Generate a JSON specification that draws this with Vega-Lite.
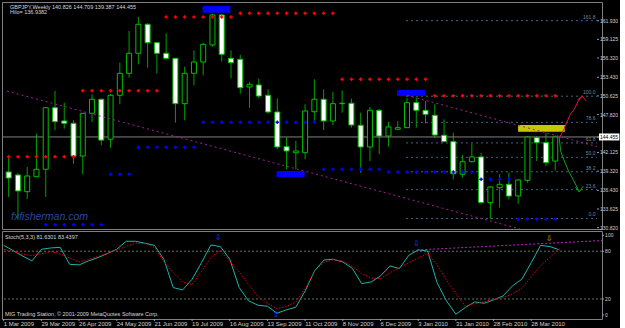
{
  "$schema": "https://vega.github.io/schema/vega-lite/v6.json",
  "usermeta": {"embedOptions": {"actions": false}},
  "background": "#000000",
  "padding": {"left": 1, "top": 1, "right": 0, "bottom": 0},
  "bounds": "flush",
  "spacing": 2,
  "config": {
    "view": {"stroke": "#808080", "strokeWidth": 1},
    "font": "Liberation Sans"
  },
  "datasets": {
    "bars": [
      {"i":0,"o":139.19,"h":141.30,"l":135.43,"c":138.29,"r":141.49,"s":null,"st":87.4,"sg":82.4},
      {"i":1,"o":138.74,"h":139.04,"l":132.13,"c":136.34,"r":141.49,"s":null,"st":80.8,"sg":79.5},
      {"i":2,"o":136.23,"h":139.94,"l":135.13,"c":138.59,"r":141.49,"s":null,"st":74.0,"sg":76.4},
      {"i":3,"o":138.48,"h":144.95,"l":138.44,"c":139.60,"r":141.49,"s":null,"st":67.8,"sg":74.5},
      {"i":4,"o":139.60,"h":148.96,"l":135.43,"c":148.85,"r":141.49,"s":131.27,"st":82.4,"sg":76.8},
      {"i":5,"o":148.85,"h":151.37,"l":145.46,"c":146.75,"r":141.49,"s":131.27,"st":84.1,"sg":79.6},
      {"i":6,"o":146.86,"h":149.61,"l":145.70,"c":146.51,"r":141.49,"s":131.27,"st":84.9,"sg":76.5},
      {"i":7,"o":146.51,"h":146.96,"l":140.44,"c":141.59,"r":141.49,"s":131.27,"st":63.6,"sg":71.6},
      {"i":8,"o":141.59,"h":148.06,"l":138.85,"c":148.01,"r":151.41,"s":131.27,"st":62.8,"sg":66.5},
      {"i":9,"o":148.01,"h":150.87,"l":146.71,"c":150.12,"r":151.41,"s":131.27,"st":67.8,"sg":69.6},
      {"i":10,"o":150.12,"h":150.21,"l":143.20,"c":143.98,"r":151.41,"s":131.27,"st":72.0,"sg":73.4},
      {"i":11,"o":144.11,"h":150.91,"l":142.84,"c":150.72,"r":151.41,"s":138.85,"st":77.0,"sg":77.3},
      {"i":12,"o":150.72,"h":155.62,"l":149.37,"c":154.02,"r":151.41,"s":138.85,"st":82.4,"sg":81.6},
      {"i":13,"o":154.02,"h":160.38,"l":153.36,"c":157.03,"r":151.41,"s":138.85,"st":92.5,"sg":85.9},
      {"i":14,"o":157.03,"h":162.49,"l":155.38,"c":161.39,"r":151.41,"s":142.90,"st":92.5,"sg":90.2},
      {"i":15,"o":161.39,"h":161.54,"l":154.87,"c":158.62,"r":151.41,"s":142.90,"st":90.0,"sg":89.6},
      {"i":16,"o":158.62,"h":158.73,"l":153.97,"c":157.03,"r":151.41,"s":142.90,"st":87.4,"sg":85.0},
      {"i":17,"o":157.03,"h":160.04,"l":156.13,"c":156.28,"r":162.49,"s":142.90,"st":69.9,"sg":67.0},
      {"i":18,"o":156.28,"h":156.32,"l":146.60,"c":149.46,"r":162.49,"s":142.90,"st":34.3,"sg":53.0},
      {"i":19,"o":149.46,"h":155.02,"l":146.96,"c":154.02,"r":162.49,"s":142.90,"st":31.4,"sg":41.0},
      {"i":20,"o":154.02,"h":157.48,"l":152.22,"c":155.72,"r":162.49,"s":142.90,"st":44.8,"sg":38.0},
      {"i":21,"o":155.72,"h":158.62,"l":153.72,"c":158.38,"r":162.49,"s":146.66,"st":65.7,"sg":55.0},
      {"i":22,"o":158.28,"h":162.98,"l":158.02,"c":162.79,"r":162.49,"s":146.66,"st":87.9,"sg":72.0},
      {"i":23,"o":162.79,"h":162.89,"l":155.77,"c":156.88,"r":162.49,"s":146.66,"st":85.8,"sg":81.5},
      {"i":24,"o":156.28,"h":157.48,"l":153.27,"c":155.62,"r":162.49,"s":146.66,"st":69.9,"sg":67.0},
      {"i":25,"o":156.13,"h":156.78,"l":150.96,"c":151.86,"r":163.04,"s":146.66,"st":34.3,"sg":54.0},
      {"i":26,"o":151.97,"h":152.72,"l":148.85,"c":152.37,"r":163.04,"s":146.66,"st":17.6,"sg":38.0},
      {"i":27,"o":152.27,"h":153.21,"l":150.27,"c":150.61,"r":163.04,"s":146.66,"st":12.1,"sg":23.0},
      {"i":28,"o":150.72,"h":151.62,"l":147.95,"c":148.21,"r":163.04,"s":146.66,"st":10.9,"sg":14.5},
      {"i":29,"o":148.21,"h":150.27,"l":142.60,"c":142.95,"r":163.04,"s":146.66,"st":2.1,"sg":8.0},
      {"i":30,"o":142.99,"h":144.45,"l":139.60,"c":142.35,"r":163.04,"s":146.66,"st":6.3,"sg":10.5},
      {"i":31,"o":142.09,"h":143.85,"l":139.60,"c":142.35,"r":163.04,"s":146.66,"st":9.6,"sg":16.0},
      {"i":32,"o":142.09,"h":149.37,"l":141.10,"c":148.36,"r":163.04,"s":146.66,"st":30.1,"sg":33.0},
      {"i":33,"o":148.25,"h":153.12,"l":146.86,"c":150.12,"r":163.04,"s":146.66,"st":55.2,"sg":55.0},
      {"i":34,"o":150.12,"h":151.62,"l":145.50,"c":146.86,"r":163.04,"s":139.60,"st":69.0,"sg":66.0},
      {"i":35,"o":146.86,"h":151.21,"l":146.21,"c":149.46,"r":163.04,"s":139.60,"st":69.9,"sg":69.5},
      {"i":36,"o":149.46,"h":151.47,"l":148.10,"c":149.52,"r":153.12,"s":139.60,"st":66.5,"sg":67.8},
      {"i":37,"o":149.52,"h":150.21,"l":145.85,"c":146.25,"r":153.12,"s":139.60,"st":58.6,"sg":61.0},
      {"i":38,"o":146.21,"h":148.10,"l":139.09,"c":142.95,"r":153.12,"s":139.60,"st":39.3,"sg":52.0},
      {"i":39,"o":142.95,"h":148.96,"l":140.84,"c":148.46,"r":153.12,"s":139.60,"st":41.4,"sg":46.3},
      {"i":40,"o":148.46,"h":148.61,"l":141.85,"c":144.60,"r":153.12,"s":139.60,"st":49.0,"sg":45.5},
      {"i":41,"o":144.60,"h":146.75,"l":142.99,"c":145.96,"r":153.12,"s":139.18,"st":61.5,"sg":53.0},
      {"i":42,"o":145.61,"h":146.86,"l":145.55,"c":145.85,"r":153.12,"s":139.18,"st":58.2,"sg":59.4},
      {"i":43,"o":145.85,"h":150.31,"l":145.80,"c":149.61,"r":153.12,"s":139.18,"st":74.9,"sg":65.5},
      {"i":44,"o":149.61,"h":150.36,"l":145.85,"c":148.46,"r":153.12,"s":139.18,"st":81.6,"sg":71.5},
      {"i":45,"o":148.46,"h":149.86,"l":146.45,"c":147.86,"r":153.12,"s":139.18,"st":80.3,"sg":77.0},
      {"i":46,"o":147.71,"h":149.37,"l":144.35,"c":144.75,"r":150.64,"s":139.18,"st":40.6,"sg":63.0},
      {"i":47,"o":144.71,"h":147.11,"l":143.70,"c":143.75,"r":150.64,"s":139.18,"st":17.6,"sg":44.0},
      {"i":48,"o":143.75,"h":145.10,"l":138.09,"c":138.93,"r":150.64,"s":139.18,"st":0.8,"sg":26.5},
      {"i":49,"o":138.85,"h":141.75,"l":138.33,"c":140.74,"r":150.64,"s":139.18,"st":9.2,"sg":11.0},
      {"i":50,"o":140.74,"h":143.44,"l":140.59,"c":141.45,"r":150.64,"s":139.18,"st":16.3,"sg":14.0},
      {"i":51,"o":141.45,"h":142.09,"l":134.46,"c":134.60,"r":150.64,"s":138.09,"st":14.6,"sg":16.5},
      {"i":52,"o":134.58,"h":137.09,"l":132.08,"c":136.94,"r":150.64,"s":138.09,"st":18.8,"sg":19.5},
      {"i":53,"o":136.83,"h":138.85,"l":133.83,"c":137.34,"r":150.64,"s":138.09,"st":23.8,"sg":21.8},
      {"i":54,"o":137.34,"h":139.09,"l":135.09,"c":135.58,"r":150.64,"s":138.09,"st":36.4,"sg":26.3},
      {"i":55,"o":135.58,"h":138.09,"l":134.43,"c":137.99,"r":150.64,"s":132.08,"st":44.8,"sg":33.6},
      {"i":56,"o":137.94,"h":144.60,"l":137.58,"c":144.45,"r":150.64,"s":132.08,"st":65.7,"sg":48.0},
      {"i":57,"o":144.35,"h":144.60,"l":140.84,"c":143.60,"r":150.64,"s":132.08,"st":87.4,"sg":62.0},
      {"i":58,"o":143.60,"h":145.10,"l":140.09,"c":140.59,"r":150.64,"s":132.08,"st":85.8,"sg":72.5},
      {"i":59,"o":140.826,"h":144.709,"l":139.387,"c":144.455,"r":150.64,"s":132.08,"st":81.63,"sg":83.44}
    ],
    "fib": [
      {"lab":"161.8","p":161.94},
      {"lab":"100.0","p":150.58},
      {"lab":"78.6","p":146.65},
      {"lab":"61.8","p":143.56},
      {"lab":"50.0","p":141.39},
      {"lab":"38.2","p":139.22},
      {"lab":"23.6","p":136.54},
      {"lab":"0.0","p":132.20}
    ],
    "boxes": [
      {"k":"swing","a":20.94,"b":23.92,"p1":164.14,"p2":163.13},
      {"k":"swing","a":28.91,"b":31.95,"p1":139.34,"p2":138.44},
      {"k":"swing","a":41.93,"b":44.94,"p1":151.51,"p2":150.61},
      {"k":"target","a":54.99,"b":60.04,"p1":146.25,"p2":145.25}
    ],
    "trend": [
      {"g":"A","i":-0.18,"p":151.35},
      {"g":"A","i":55.21,"p":130.62},
      {"g":"B","i":43.03,"p":150.69},
      {"g":"B","i":63.51,"p":143.02}
    ],
    "fc": [
      {"g":"u","d":"up","i":59.43,"p":144.30},
      {"g":"u","d":"up","i":59.90,"p":145.50},
      {"g":"u","d":"up","i":60.22,"p":146.56},
      {"g":"u","d":"up","i":60.64,"p":147.91},
      {"g":"u","d":"up","i":61.07,"p":148.66},
      {"g":"u","d":"up","i":61.49,"p":149.86},
      {"g":"u","d":"up","i":61.91,"p":150.61},
      {"g":"uh","d":"up","i":61.39,"p":150.01},
      {"g":"uh","d":"up","i":61.91,"p":150.61},
      {"g":"uh","d":"up","i":62.35,"p":149.86},
      {"g":"dn","d":"down","i":59.43,"p":144.30},
      {"g":"dn","d":"down","i":59.59,"p":142.35},
      {"g":"dn","d":"down","i":59.90,"p":141.14},
      {"g":"dn","d":"down","i":60.43,"p":139.34},
      {"g":"dn","d":"down","i":60.96,"p":137.99},
      {"g":"dn","d":"down","i":61.28,"p":137.09},
      {"g":"dn","d":"down","i":61.60,"p":136.19},
      {"g":"dh","d":"down","i":61.18,"p":136.94},
      {"g":"dh","d":"down","i":61.60,"p":136.19},
      {"g":"dh","d":"down","i":62.03,"p":137.09}
    ],
    "arrows": [
      {"i":22.76,"v":96.6,"t":"⇩","k":"sell"},
      {"i":28.9,"v":0.4,"t":"⇧","k":"buy"},
      {"i":43.8,"v":89,"t":"⇩","k":"sell"},
      {"i":57.9,"v":95,"t":"⇩","k":"last"}
    ],
    "pricelab": [
      {"p":161.93,"t":"161.930","cur":false},
      {"p":159.125,"t":"159.125","cur":false},
      {"p":156.32,"t":"156.320","cur":false},
      {"p":153.43,"t":"153.430","cur":false},
      {"p":150.625,"t":"150.625","cur":false},
      {"p":147.82,"t":"147.820","cur":false},
      {"p":144.455,"t":"144.455","cur":true},
      {"p":142.125,"t":"142.125","cur":false},
      {"p":139.32,"t":"139.320","cur":false},
      {"p":136.43,"t":"136.430","cur":false},
      {"p":133.625,"t":"133.625","cur":false},
      {"p":130.82,"t":"130.820","cur":false}
    ],
    "stochlab": [
      {"v":100,"t":"100"},
      {"v":80,"t":"80"},
      {"v":20,"t":"20"},
      {"v":0,"t":"0"}
    ],
    "datelab": [
      {"i":0,"t":"1 Mar 2009"},
      {"i":4,"t":"29 Mar 2009"},
      {"i":8,"t":"26 Apr 2009"},
      {"i":12,"t":"24 May 2009"},
      {"i":16,"t":"21 Jun 2009"},
      {"i":20,"t":"19 Jul 2009"},
      {"i":24,"t":"16 Aug 2009"},
      {"i":28,"t":"13 Sep 2009"},
      {"i":32,"t":"11 Oct 2009"},
      {"i":36,"t":"8 Nov 2009"},
      {"i":40,"t":"6 Dec 2009"},
      {"i":44,"t":"3 Jan 2010"},
      {"i":48,"t":"31 Jan 2010"},
      {"i":52,"t":"28 Feb 2010"},
      {"i":56,"t":"28 Mar 2010"}
    ]
  },
  "vconcat": [
    {
      "width": 600,
      "height": 227,
      "resolve": {"scale": {"color": "independent"}},
      "layer": [
        {
          "data": {"name": "bars"},
          "mark": {"type": "rule", "color": "#00a000", "strokeWidth": 1},
          "encoding": {
            "x": {"field": "i", "type": "quantitative", "scale": {"domain": [-0.18, 63.51], "nice": false, "zero": false}, "axis": null},
            "y": {"field": "l", "type": "quantitative", "scale": {"domain": [130.62, 164.74], "nice": false, "zero": false}, "axis": null},
            "y2": {"field": "h"}
          }
        },
        {
          "data": {"name": "fib"},
          "mark": {"type": "rule", "color": "#3d6585", "strokeDash": [2, 3], "strokeWidth": 1},
          "encoding": {
            "x": {"datum": 42.89, "type": "quantitative", "scale": {"domain": [-0.18, 63.51], "nice": false, "zero": false}, "axis": null},
            "x2": {"datum": 63.51},
            "y": {"field": "p", "type": "quantitative", "scale": {"domain": [130.62, 164.74], "nice": false, "zero": false}, "axis": null}
          }
        },
        {
          "data": {"name": "fib"},
          "mark": {"type": "text", "align": "right", "baseline": "bottom", "dy": -1, "fontSize": 5, "color": "#6a88a6"},
          "encoding": {
            "x": {"datum": 63.35, "type": "quantitative", "scale": {"domain": [-0.18, 63.51], "nice": false, "zero": false}, "axis": null},
            "y": {"field": "p", "type": "quantitative", "scale": {"domain": [130.62, 164.74], "nice": false, "zero": false}, "axis": null},
            "text": {"field": "lab"}
          }
        },
        {
          "data": {"values": [{"p": 144.455}]},
          "mark": {"type": "rule", "color": "#808080", "strokeWidth": 1},
          "encoding": {
            "y": {"field": "p", "type": "quantitative", "scale": {"domain": [130.62, 164.74], "nice": false, "zero": false}, "axis": null}
          }
        },
        {
          "data": {"name": "boxes"},
          "mark": {"type": "rect"},
          "encoding": {
            "x": {"field": "a", "type": "quantitative", "scale": {"domain": [-0.18, 63.51], "nice": false, "zero": false}, "axis": null},
            "x2": {"field": "b"},
            "y": {"field": "p1", "type": "quantitative", "scale": {"domain": [130.62, 164.74], "nice": false, "zero": false}, "axis": null},
            "y2": {"field": "p2"},
            "color": {"field": "k", "type": "nominal", "scale": {"domain": ["swing", "target"], "range": ["#0000ff", "#c8c800"]}, "legend": null}
          }
        },
        {
          "data": {"name": "bars"},
          "mark": {"type": "bar", "width": 5, "stroke": "#00c000", "strokeWidth": 1},
          "encoding": {
            "x": {"field": "i", "type": "quantitative", "scale": {"domain": [-0.18, 63.51], "nice": false, "zero": false}, "axis": null},
            "y": {"field": "o", "type": "quantitative", "scale": {"domain": [130.62, 164.74], "nice": false, "zero": false}, "axis": null},
            "y2": {"field": "c"},
            "fill": {"condition": {"test": "datum.c >= datum.o", "value": "#000000"}, "value": "#ffffff"}
          }
        },
        {
          "data": {"name": "trend"},
          "mark": {"type": "line", "color": "#a020a0", "strokeDash": [2, 3], "strokeWidth": 1, "clip": true},
          "encoding": {
            "x": {"field": "i", "type": "quantitative", "scale": {"domain": [-0.18, 63.51], "nice": false, "zero": false}, "axis": null},
            "y": {"field": "p", "type": "quantitative", "scale": {"domain": [130.62, 164.74], "nice": false, "zero": false}, "axis": null},
            "detail": {"field": "g"}
          }
        },
        {
          "data": {"name": "bars"},
          "transform": [{"filter": "datum.r != null"}],
          "mark": {"type": "point", "shape": "cross", "filled": true, "size": 12, "color": "#ff0000", "opacity": 1},
          "encoding": {
            "x": {"field": "i", "type": "quantitative", "scale": {"domain": [-0.18, 63.51], "nice": false, "zero": false}, "axis": null},
            "y": {"field": "r", "type": "quantitative", "scale": {"domain": [130.62, 164.74], "nice": false, "zero": false}, "axis": null}
          }
        },
        {
          "data": {"name": "bars"},
          "transform": [{"filter": "datum.s != null"}],
          "mark": {"type": "point", "shape": "cross", "filled": true, "size": 12, "color": "#0000ff", "opacity": 1},
          "encoding": {
            "x": {"field": "i", "type": "quantitative", "scale": {"domain": [-0.18, 63.51], "nice": false, "zero": false}, "axis": null},
            "y": {"field": "s", "type": "quantitative", "scale": {"domain": [130.62, 164.74], "nice": false, "zero": false}, "axis": null}
          }
        },
        {
          "data": {"name": "fc"},
          "mark": {"type": "line", "strokeWidth": 1},
          "encoding": {
            "x": {"field": "i", "type": "quantitative", "scale": {"domain": [-0.18, 63.51], "nice": false, "zero": false}, "axis": null},
            "y": {"field": "p", "type": "quantitative", "scale": {"domain": [130.62, 164.74], "nice": false, "zero": false}, "axis": null},
            "stroke": {"field": "d", "type": "nominal", "scale": {"domain": ["up", "down"], "range": ["#e01040", "#10a020"]}, "legend": null},
            "detail": {"field": "g"}
          }
        },
        {
          "data": {"values": [{"t": "GBPJPY,Weekly  140.826 144.709 139.387 144.455", "i": 0.14, "p": 163.99}, {"t": "Hilo= 136.9382", "i": 0.14, "p": 163.19}]},
          "mark": {"type": "text", "align": "left", "baseline": "middle", "fontSize": 5.5, "color": "#d8d8d8"},
          "encoding": {
            "x": {"field": "i", "type": "quantitative", "scale": {"domain": [-0.18, 63.51], "nice": false, "zero": false}, "axis": null},
            "y": {"field": "p", "type": "quantitative", "scale": {"domain": [130.62, 164.74], "nice": false, "zero": false}, "axis": null},
            "text": {"field": "t"}
          }
        },
        {
          "data": {"values": [{"t": "fxfisherman.com", "i": 0.25, "p": 132.35}]},
          "mark": {"type": "text", "align": "left", "baseline": "middle", "fontSize": 10.5, "fontStyle": "italic", "color": "#3355bb", "opacity": 0.85},
          "encoding": {
            "x": {"field": "i", "type": "quantitative", "scale": {"domain": [-0.18, 63.51], "nice": false, "zero": false}, "axis": null},
            "y": {"field": "p", "type": "quantitative", "scale": {"domain": [130.62, 164.74], "nice": false, "zero": false}, "axis": null},
            "text": {"field": "t"}
          }
        },
        {
          "data": {"name": "pricelab"},
          "mark": {"type": "rule", "color": "#a0a0a0", "strokeWidth": 1},
          "encoding": {
            "x": {"datum": 63.51, "type": "quantitative", "scale": {"domain": [-0.18, 63.51], "nice": false, "zero": false}, "axis": null},
            "x2": {"datum": 63.72},
            "y": {"field": "p", "type": "quantitative", "scale": {"domain": [130.62, 164.74], "nice": false, "zero": false}, "axis": null}
          }
        },
        {
          "data": {"name": "pricelab"},
          "transform": [{"filter": "datum.cur"}],
          "mark": {"type": "rect", "color": "#ffffff"},
          "encoding": {
            "x": {"datum": 63.72, "type": "quantitative", "scale": {"domain": [-0.18, 63.51], "nice": false, "zero": false}, "axis": null},
            "x2": {"datum": 65.93},
            "y": {"datum": 144.98, "type": "quantitative", "scale": {"domain": [130.62, 164.74], "nice": false, "zero": false}, "axis": null},
            "y2": {"datum": 143.93}
          }
        },
        {
          "data": {"name": "pricelab"},
          "mark": {"type": "text", "align": "left", "baseline": "middle", "fontSize": 5},
          "encoding": {
            "x": {"datum": 63.84, "type": "quantitative", "scale": {"domain": [-0.18, 63.51], "nice": false, "zero": false}, "axis": null},
            "y": {"field": "p", "type": "quantitative", "scale": {"domain": [130.62, 164.74], "nice": false, "zero": false}, "axis": null},
            "text": {"field": "t"},
            "color": {"condition": {"test": "datum.cur", "value": "#000000"}, "value": "#d0d0d0"}
          }
        }
      ]
    },
    {
      "width": 600,
      "height": 88,
      "layer": [
        {
          "data": {"name": "bars"},
          "mark": {"type": "line", "color": "#20b2aa", "strokeWidth": 1},
          "encoding": {
            "x": {"field": "i", "type": "quantitative", "scale": {"domain": [-0.18, 63.51], "nice": false, "zero": false}, "axis": null},
            "y": {"field": "st", "type": "quantitative", "scale": {"domain": [-5.15, 105.4], "nice": false, "zero": false}, "axis": null}
          }
        },
        {
          "data": {"values": [{"v": 80}, {"v": 20}]},
          "mark": {"type": "rule", "color": "#5f705f", "strokeDash": [2, 2], "strokeWidth": 1},
          "encoding": {
            "y": {"field": "v", "type": "quantitative", "scale": {"domain": [-5.15, 105.4], "nice": false, "zero": false}, "axis": null}
          }
        },
        {
          "data": {"name": "bars"},
          "mark": {"type": "line", "color": "#e00000", "strokeDash": [1.5, 1.5], "strokeWidth": 1},
          "encoding": {
            "x": {"field": "i", "type": "quantitative", "scale": {"domain": [-0.18, 63.51], "nice": false, "zero": false}, "axis": null},
            "y": {"field": "sg", "type": "quantitative", "scale": {"domain": [-5.15, 105.4], "nice": false, "zero": false}, "axis": null}
          }
        },
        {
          "data": {"values": [{"i": 43.9, "v": 81.6}, {"i": 63.51, "v": 93.4}]},
          "mark": {"type": "line", "color": "#c020c0", "strokeDash": [2, 2], "strokeWidth": 1},
          "encoding": {
            "x": {"field": "i", "type": "quantitative", "scale": {"domain": [-0.18, 63.51], "nice": false, "zero": false}, "axis": null},
            "y": {"field": "v", "type": "quantitative", "scale": {"domain": [-5.15, 105.4], "nice": false, "zero": false}, "axis": null}
          }
        },
        {
          "data": {"name": "arrows"},
          "mark": {"type": "text", "font": "DejaVu Sans", "fontSize": 8, "align": "center", "baseline": "middle"},
          "encoding": {
            "x": {"field": "i", "type": "quantitative", "scale": {"domain": [-0.18, 63.51], "nice": false, "zero": false}, "axis": null},
            "y": {"field": "v", "type": "quantitative", "scale": {"domain": [-5.15, 105.4], "nice": false, "zero": false}, "axis": null},
            "text": {"field": "t"},
            "color": {"field": "k", "type": "nominal", "scale": {"domain": ["sell", "buy", "last"], "range": ["#2040ff", "#2040ff", "#c8b400"]}, "legend": null}
          }
        },
        {
          "data": {"values": [{"t": "Stoch(5,3,3) 81.6301 83.4397", "i": 0.14, "v": 97.5}, {"t": "MIG Trading Station, © 2001-2009 MetaQuotes Software Corp.", "i": 0.14, "v": 0.75}]},
          "mark": {"type": "text", "align": "left", "baseline": "middle", "fontSize": 5.5, "color": "#d8d8d8"},
          "encoding": {
            "x": {"field": "i", "type": "quantitative", "scale": {"domain": [-0.18, 63.51], "nice": false, "zero": false}, "axis": null},
            "y": {"field": "v", "type": "quantitative", "scale": {"domain": [-5.15, 105.4], "nice": false, "zero": false}, "axis": null},
            "text": {"field": "t"}
          }
        },
        {
          "data": {"name": "stochlab"},
          "mark": {"type": "rule", "color": "#a0a0a0", "strokeWidth": 1},
          "encoding": {
            "x": {"datum": 63.51, "type": "quantitative", "scale": {"domain": [-0.18, 63.51], "nice": false, "zero": false}, "axis": null},
            "x2": {"datum": 63.72},
            "y": {"field": "v", "type": "quantitative", "scale": {"domain": [-5.15, 105.4], "nice": false, "zero": false}, "axis": null}
          }
        },
        {
          "data": {"name": "stochlab"},
          "mark": {"type": "text", "align": "left", "baseline": "middle", "fontSize": 5, "color": "#d0d0d0"},
          "encoding": {
            "x": {"datum": 63.84, "type": "quantitative", "scale": {"domain": [-0.18, 63.51], "nice": false, "zero": false}, "axis": null},
            "y": {"field": "v", "type": "quantitative", "scale": {"domain": [-5.15, 105.4], "nice": false, "zero": false}, "axis": null},
            "text": {"field": "t"}
          }
        },
        {
          "data": {"name": "datelab"},
          "mark": {"type": "rule", "color": "#a0a0a0", "strokeWidth": 1},
          "encoding": {
            "x": {"field": "i", "type": "quantitative", "scale": {"domain": [-0.18, 63.51], "nice": false, "zero": false}, "axis": null},
            "y": {"datum": -5.15, "type": "quantitative", "scale": {"domain": [-5.15, 105.4], "nice": false, "zero": false}, "axis": null},
            "y2": {"datum": -7.7}
          }
        },
        {
          "data": {"name": "datelab"},
          "mark": {"type": "text", "align": "left", "baseline": "top", "fontSize": 6, "color": "#d0d0d0"},
          "encoding": {
            "x": {"field": "i", "type": "quantitative", "scale": {"domain": [-0.18, 63.51], "nice": false, "zero": false}, "axis": null},
            "y": {"datum": -7.4, "type": "quantitative", "scale": {"domain": [-5.15, 105.4], "nice": false, "zero": false}, "axis": null},
            "text": {"field": "t"}
          }
        }
      ]
    }
  ]
}
